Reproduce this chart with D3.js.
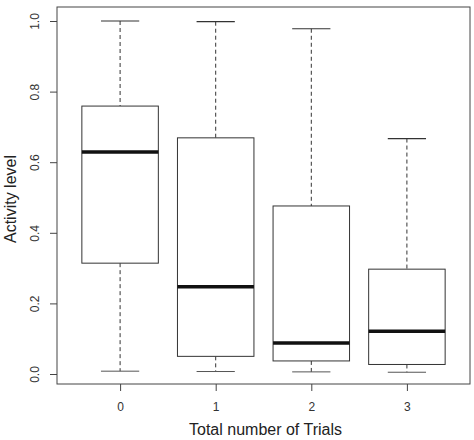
<!DOCTYPE html>
<html>
<head>
<meta charset="utf-8">
<script src="https://cdn.jsdelivr.net/npm/d3@7"></script>
<style>
  body { margin: 0; background: #fff; }
  svg { display: block; font-family: "Liberation Sans", Arial, sans-serif; }
</style>
</head>
<body>
<div id="chart"></div>
<script>
(function () {
  'use strict';

  // Boxplot stats
  var categories = ['0', '1', '2', '3'];
  var lowerWhisker = [0.008, 0.007, 0.006, 0.005];
  var q1 = [0.314, 0.050, 0.037, 0.027];
  var medians = [0.629, 0.247, 0.088, 0.121];
  var q3 = [0.759, 0.669, 0.476, 0.297];
  var upperWhisker = [1.0, 0.998, 0.978, 0.667];
  var yTicks = [0, 0.2, 0.4, 0.6, 0.8, 1.0];

  var width = 474, height = 440;
  var margin = { top: 7, right: 4, bottom: 56, left: 57 };
  var iw = width - margin.left - margin.right;
  var ih = height - margin.top - margin.bottom;

  var boxes = categories.map(function (c, i) {
    return { cat: c, idx: i + 1, lo: lowerWhisker[i], q1: q1[i], med: medians[i], q3: q3[i], hi: upperWhisker[i] };
  });

  // R-style x range: [0.5, 4.5] extended 4% each side
  var x = d3.scaleLinear().domain([0.5 - 0.16, 4.5 + 0.16]).range([0, iw]);
  // 0 sits at ~374px and 1 at ~21px on the page
  var y = d3.scaleLinear().domain([0, 1]).range([374 - margin.top, 21 - margin.top]);

  var svg = d3.select('#chart').append('svg').attr('width', width).attr('height', height);
  var g = svg.append('g').attr('transform', 'translate(' + margin.left + ',' + margin.top + ')');

  var halfW = x(1.4) - x(1);
  var capW = halfW / 2;

  var bg = g.selectAll('.box').data(boxes).enter().append('g').attr('class', 'box');

  // whiskers (dashed)
  bg.append('line')
    .attr('x1', function (d) { return x(d.idx); }).attr('x2', function (d) { return x(d.idx); })
    .attr('y1', function (d) { return y(d.hi); }).attr('y2', function (d) { return y(d.q3); })
    .attr('stroke', '#333').attr('stroke-width', 1).attr('stroke-dasharray', '4,3');
  bg.append('line')
    .attr('x1', function (d) { return x(d.idx); }).attr('x2', function (d) { return x(d.idx); })
    .attr('y1', function (d) { return y(d.q1); }).attr('y2', function (d) { return y(d.lo); })
    .attr('stroke', '#333').attr('stroke-width', 1).attr('stroke-dasharray', '4,3');

  // caps
  bg.append('line')
    .attr('x1', function (d) { return x(d.idx) - capW; }).attr('x2', function (d) { return x(d.idx) + capW; })
    .attr('y1', function (d) { return y(d.hi); }).attr('y2', function (d) { return y(d.hi); })
    .attr('stroke', '#333').attr('stroke-width', 1.2);
  bg.append('line')
    .attr('x1', function (d) { return x(d.idx) - capW; }).attr('x2', function (d) { return x(d.idx) + capW; })
    .attr('y1', function (d) { return y(d.lo); }).attr('y2', function (d) { return y(d.lo); })
    .attr('stroke', '#555').attr('stroke-width', 1);

  // boxes
  bg.append('rect')
    .attr('x', function (d) { return x(d.idx) - halfW; })
    .attr('y', function (d) { return y(d.q3); })
    .attr('width', halfW * 2)
    .attr('height', function (d) { return y(d.q1) - y(d.q3); })
    .attr('fill', '#fff').attr('stroke', '#333').attr('stroke-width', 1);

  // medians
  bg.append('line')
    .attr('x1', function (d) { return x(d.idx) - halfW; }).attr('x2', function (d) { return x(d.idx) + halfW; })
    .attr('y1', function (d) { return y(d.med); }).attr('y2', function (d) { return y(d.med); })
    .attr('stroke', '#111').attr('stroke-width', 3.5);

  // frame
  g.append('rect').attr('x', 0).attr('y', 0).attr('width', iw).attr('height', ih)
    .attr('fill', 'none').attr('stroke', '#444').attr('stroke-width', 1);

  // Axes
  var yAxis = g.append('g').call(d3.axisLeft(y).tickValues(yTicks).tickSize(7).tickFormat(d3.format('.1f')));
  yAxis.select('.domain').attr('stroke', 'none');
  yAxis.selectAll('.tick line').attr('stroke', '#444');
  yAxis.selectAll('.tick text')
    .attr('transform', 'rotate(-90)')
    .attr('x', 0).attr('y', -22).attr('dy', '0.32em')
    .attr('text-anchor', 'middle')
    .attr('fill', '#333').attr('font-size', 12);

  var xAxis = g.append('g').attr('transform', 'translate(0,' + ih + ')')
    .call(d3.axisBottom(x).tickValues([1, 2, 3, 4]).tickSize(7).tickPadding(11)
      .tickFormat(function (d) { return categories[d - 1]; }));
  xAxis.select('.domain').attr('stroke', 'none');
  xAxis.selectAll('.tick line').attr('stroke', '#444');
  xAxis.selectAll('.tick text').attr('fill', '#333').attr('font-size', 12);

  // Titles
  svg.append('text').attr('x', margin.left + iw / 2 + 2).attr('y', 435)
    .attr('text-anchor', 'middle').attr('fill', '#222').attr('font-size', 16)
    .text('Total number of Trials');
  svg.append('text')
    .attr('transform', 'translate(16,199) rotate(-90)')
    .attr('text-anchor', 'middle').attr('fill', '#222').attr('font-size', 16)
    .text('Activity level');
})();
</script>
</body>
</html>
